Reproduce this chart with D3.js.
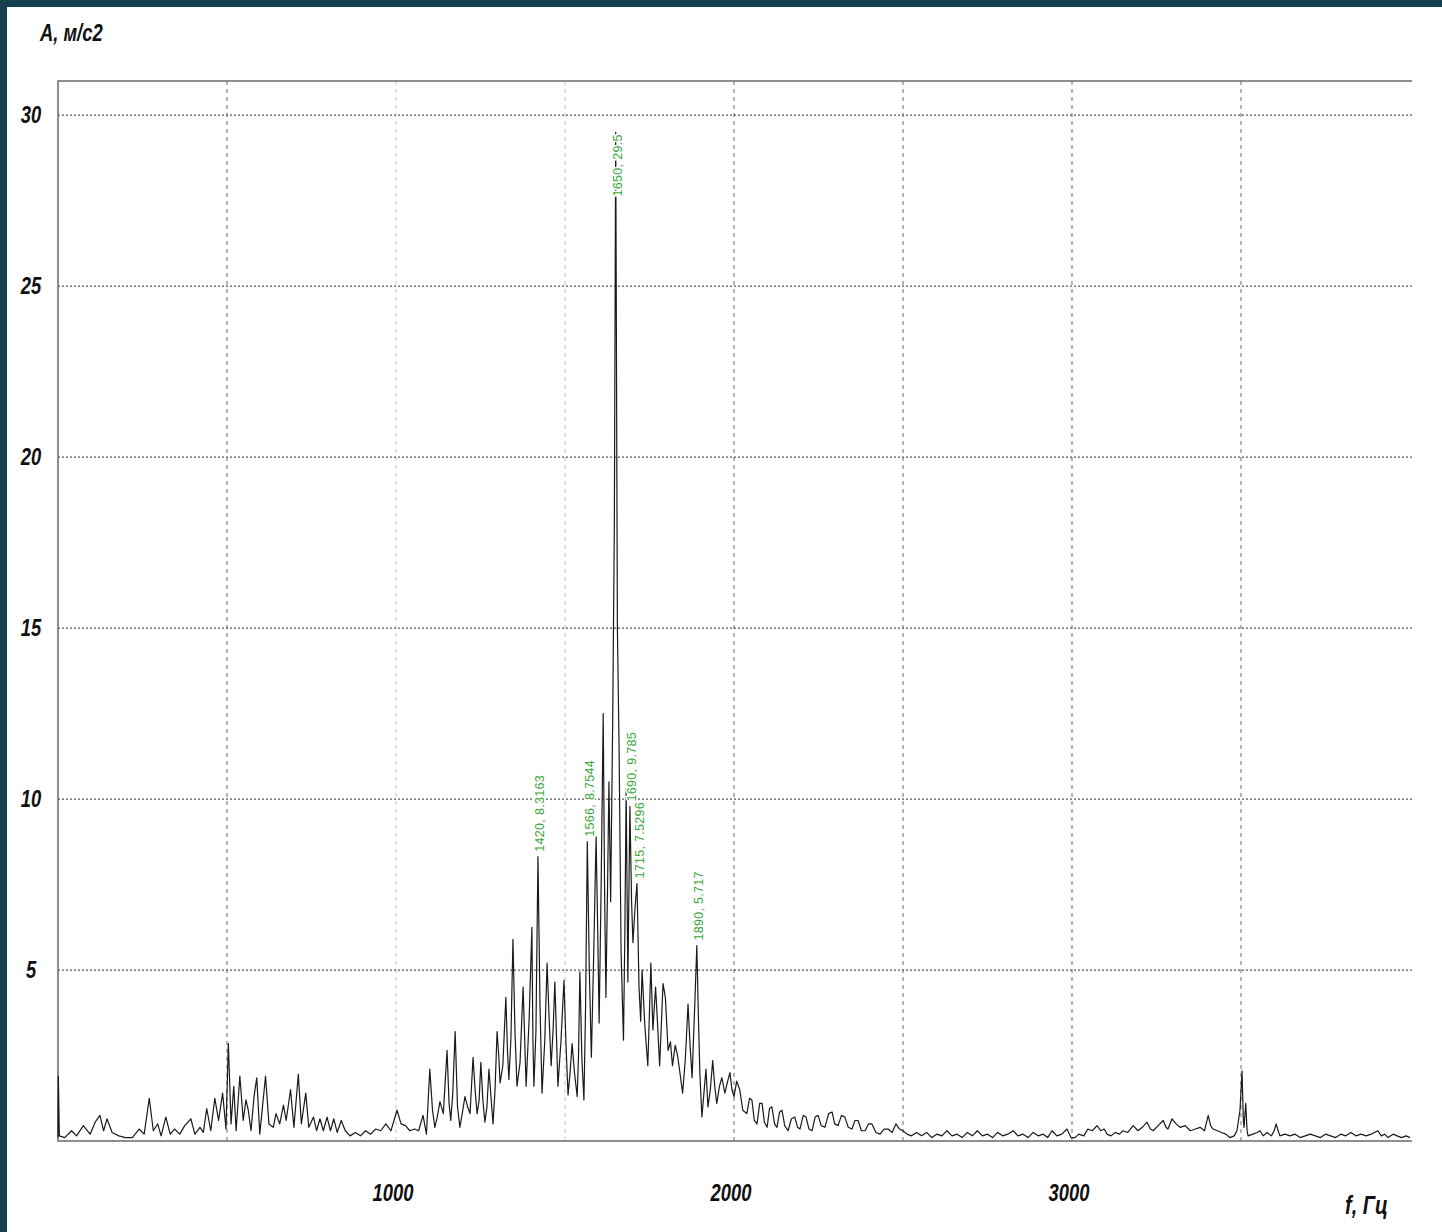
<!DOCTYPE html>
<html>
<head>
<meta charset="utf-8">
<script src="https://cdn.jsdelivr.net/npm/d3@7"></script>
<style>
  html, body { margin: 0; padding: 0; background: #143f4e; }
  svg { display: block; }
  .lbl { font-family: "Liberation Sans", Arial, sans-serif; font-style: italic; font-weight: bold; fill: #111; }
</style>
</head>
<body>
<div id="chart"></div>
<script>
// spectrum, [frequency Hz, amplitude m/s2]
const lowBand = [[0,0.1],[1,1.9],[4,0.15],[20,0.1],[40,0.3],[55,0.15],[75,0.45],[95,0.2],[110,0.55],[124,0.75],[135,0.3],[145,0.65],[160,0.25],[180,0.15],[200,0.1],[220,0.1],[240,0.35],[255,0.2],[270,1.25],[282,0.3],[295,0.5],[305,0.15],[319,0.7],[332,0.2],[345,0.35],[360,0.2],[375,0.45],[393,0.65],[405,0.2],[420,0.4],[430,0.25],[440,0.95],[452,0.3],[464,1.25],[475,0.6],[487,1.4],[497,0.35],[504,2.85],[512,0.5],[520,1.6],[527,0.3],[538,1.9],[548,0.6],[556,1.2],[563,0.9],[571,0.3],[580,1.3],[588,1.85],[597,0.2],[606,1.1],[614,1.9],[624,0.5],[637,0.4],[645,0.8],[656,0.5],[667,1.05],[675,0.6],[688,1.5],[698,0.4],[711,1.95],[720,0.5],[733,1.4],[742,0.4],[756,0.7],[765,0.3],[775,0.65],[785,0.3],[796,0.7],[806,0.3],[816,0.65],[826,0.25],[838,0.6],[850,0.3],[864,0.15],[880,0.25],[895,0.15],[910,0.3],[925,0.2],[940,0.35],[955,0.3],[970,0.5],[985,0.3],[1003,0.9],[1015,0.5],[1028,0.45],[1041,0.3],[1055,0.35],[1067,0.3],[1080,0.75],[1090,0.2]];

const coreBand = [[1100,2.1],[1108,0.9],[1115,0.4],[1122,0.7],[1130,1.15],[1140,0.8],[1151,2.65],[1157,1.1],[1162,0.6],[1168,1.4],[1175,3.2],[1182,1.0],[1189,0.4],[1196,0.8],[1204,1.3],[1212,1.0],[1219,0.8],[1228,2.45],[1234,1.5],[1240,0.8],[1246,1.2],[1251,2.3],[1257,1.2],[1263,0.55],[1269,1.0],[1275,2.1],[1281,1.3],[1287,0.5],[1293,1.5],[1299,3.2],[1304,2.5],[1308,1.7],[1316,2.2],[1325,4.2],[1330,2.6],[1334,1.8],[1340,3.0],[1346,5.9],[1352,3.2],[1358,1.6],[1367,2.3],[1376,4.5],[1381,2.9],[1385,1.6],[1394,3.6],[1402,6.25],[1405,3.0],[1408,1.6],[1414,3.2],[1420,8.3163],[1426,4.0],[1432,1.4],[1440,2.9],[1447,5.2],[1453,3.6],[1459,2.2],[1465,3.3],[1470,4.65],[1475,3.0],[1479,1.6],[1488,2.9],[1497,4.7],[1503,2.8],[1509,1.35],[1515,2.0],[1521,2.85],[1528,2.0],[1536,1.3],[1540,2.5],[1544,4.95],[1550,2.4],[1556,1.2],[1561,4.0],[1566,8.7544],[1572,5.0],[1578,2.45],[1585,5.5],[1592,8.9],[1597,6.0],[1601,3.45],[1607,7.5],[1613,12.5],[1617,7.5],[1621,4.2],[1626,7.5],[1630,10.5],[1635,7.0],[1641,12.2],[1646,18.0],[1650,29.5],[1655,15.0],[1660,11.5],[1666,5.5],[1673,2.95],[1677,6.0],[1681,10.3],[1686,4.65],[1692,9.785],[1697,7.0],[1701,5.8],[1707,6.8],[1713,7.5296],[1719,4.5],[1724,3.5],[1728,5.0],[1736,3.4],[1745,2.2],[1750,3.8],[1754,5.2],[1760,3.25],[1768,4.5],[1774,3.4],[1780,2.2],[1790,4.6],[1797,4.2],[1805,2.65],[1812,2.9],[1818,2.2],[1826,2.8],[1833,2.5],[1840,2.0],[1848,1.4],[1856,2.4],[1864,4.0],[1870,2.8],[1876,1.85],[1881,3.2],[1884,4.0],[1890,5.717],[1895,3.5],[1899,2.0],[1905,0.7],[1911,1.4],[1917,2.1],[1923,1.0],[1930,1.5],[1937,2.35],[1943,1.6],[1949,1.1],[1957,1.6],[1964,1.85],[1973,1.4],[1980,1.7],[1988,2.0],[1994,1.5]];

const highBand = [[2000,1.3],[2008,1.75],[2017,1.5],[2026,0.9],[2038,0.8],[2046,1.25],[2053,1.2],[2060,0.6],[2068,0.5],[2076,1.1],[2083,1.1],[2090,0.55],[2098,0.4],[2105,0.95],[2112,1.0],[2120,0.5],[2127,0.4],[2135,0.85],[2142,0.9],[2150,0.45],[2160,0.3],[2170,0.65],[2180,0.7],[2188,0.4],[2195,0.35],[2205,0.75],[2213,0.7],[2222,0.35],[2231,0.3],[2240,0.7],[2249,0.75],[2258,0.45],[2269,0.4],[2280,0.8],[2290,0.85],[2298,0.5],[2308,0.45],[2318,0.75],[2328,0.7],[2338,0.4],[2349,0.35],[2358,0.6],[2367,0.6],[2377,0.3],[2388,0.3],[2398,0.5],[2408,0.5],[2420,0.25],[2432,0.2],[2444,0.35],[2456,0.35],[2468,0.25],[2479,0.5],[2490,0.35],[2500,0.3],[2512,0.2],[2525,0.15],[2540,0.25],[2555,0.15],[2570,0.25],[2585,0.1],[2600,0.2],[2615,0.15],[2630,0.3],[2645,0.15],[2660,0.2],[2675,0.1],[2690,0.25],[2705,0.15],[2720,0.3],[2735,0.15],[2750,0.2],[2765,0.1],[2780,0.25],[2795,0.15],[2810,0.2],[2826,0.3],[2840,0.15],[2855,0.2],[2870,0.1],[2885,0.25],[2900,0.15],[2915,0.2],[2928,0.1],[2941,0.3],[2955,0.15],[2970,0.2],[2985,0.35],[2997,0.1],[3009,0.1],[3020,0.2],[3035,0.15],[3047,0.35],[3060,0.3],[3074,0.45],[3085,0.3],[3095,0.35],[3104,0.2],[3115,0.15],[3128,0.25],[3140,0.2],[3151,0.3],[3165,0.25],[3181,0.45],[3195,0.3],[3208,0.4],[3222,0.55],[3232,0.35],[3240,0.3],[3255,0.45],[3270,0.6],[3278,0.4],[3284,0.35],[3296,0.65],[3308,0.5],[3320,0.4],[3335,0.45],[3350,0.3],[3365,0.35],[3379,0.4],[3392,0.3],[3403,0.75],[3410,0.45],[3417,0.35],[3430,0.3],[3442,0.25],[3455,0.2],[3467,0.1],[3480,0.15],[3488,0.3],[3497,0.9],[3503,2.05],[3507,0.6],[3509,0.4],[3514,1.1],[3518,0.3],[3521,0.15],[3535,0.2],[3548,0.25],[3556,0.3],[3566,0.15],[3577,0.25],[3590,0.15],[3598,0.3],[3604,0.5],[3610,0.3],[3615,0.15],[3630,0.2],[3645,0.15],[3660,0.2],[3675,0.1],[3690,0.15],[3705,0.2],[3720,0.15],[3735,0.1],[3750,0.2],[3765,0.15],[3780,0.1],[3795,0.2],[3810,0.15],[3825,0.25],[3840,0.15],[3855,0.2],[3870,0.15],[3885,0.2],[3895,0.25],[3905,0.3],[3915,0.15],[3925,0.2],[3935,0.1],[3950,0.2],[3962,0.15],[3975,0.1],[3988,0.15],[4000,0.1]];

// marked peaks (green labels)
const peakFreqs = [1420, 1566, 1650, 1690, 1715, 1890];
const peakAmps = [8.3163, 8.7544, 29.5, 9.785, 7.5296, 5.717];
const peakTexts = ["1420, 8.3163", "1566, 8.7544", "1650, 29.5", "1690, 9.785", "1715, 7.5296", "1890, 5.717"];

const yTicks = [5, 10, 15, 20, 25, 30];
const xGrid = [500, 1000, 1500, 2000, 2500, 3000, 3500];
const xLabels = [1000, 2000, 3000];

const width = 1442, height = 1232;
const plot = { left: 58, right: 1410, top: 81, bottom: 1141 };
const squeeze = 0.8; // the picture uses a narrow face

const x = d3.scaleLinear().domain([0, 4000]).range([plot.left, plot.right]);
const y = d3.scaleLinear().domain([0, 31]).range([plot.bottom, plot.top]);

const svg = d3.select('#chart').append('svg')
    .attr('width', width)
    .attr('height', height);

// white sheet over the dark slide background
svg.append('rect')
    .attr('x', 7).attr('y', 7)
    .attr('width', width - 7).attr('height', height - 7)
    .attr('fill', '#ffffff');

// grid
svg.append('g').selectAll('line')
    .data(yTicks)
    .enter().append('line')
    .attr('x1', plot.left).attr('x2', plot.right + 2)
    .attr('y1', d => y(d)).attr('y2', d => y(d))
    .attr('stroke', '#55585f')
    .attr('stroke-width', 1.3)
    .attr('stroke-dasharray', '2,2');

svg.append('g').selectAll('line')
    .data(xGrid)
    .enter().append('line')
    .attr('x1', d => x(d)).attr('x2', d => x(d))
    .attr('y1', plot.top).attr('y2', plot.bottom)
    .attr('stroke', '#5a5f78')
    .attr('stroke-opacity', d => (d === 1000 || d === 1500) ? 0.35 : 0.85)
    .attr('stroke-width', 1.1)
    .attr('stroke-dasharray', '4,4');

// frame: top, left, bottom
svg.append('path')
    .attr('d', `M${plot.right + 2},${plot.top}H${plot.left}V${plot.bottom}H${plot.right + 2}`)
    .attr('fill', 'none')
    .attr('stroke', '#6a6a6a')
    .attr('stroke-width', 1.5);

// spectrum line
const spectrum = lowBand.concat(coreBand, highBand);
const line = d3.line()
    .x(d => x(d[0]))
    .y(d => y(d[1]));

svg.append('path')
    .datum(spectrum)
    .attr('d', line)
    .attr('fill', 'none')
    .attr('stroke', '#1a1a1a')
    .attr('stroke-width', 1.2)
    .attr('stroke-linejoin', 'round');

// peak labels, rotated, green
const peaks = peakFreqs.map((f, i) => ({ f: f, a: peakAmps[i], t: peakTexts[i] }));
svg.append('g').selectAll('text')
    .data(peaks)
    .enter().append('text')
    .attr('transform', function (d) {
        // the top peak has no room above it, so its label hangs down from the tip
        const py = d.a > 25 ? y(d.a) + 2 : y(d.a) - 5;
        return `translate(${x(d.f) + 2},${py}) rotate(-90)`;
    })
    .attr('text-anchor', d => d.a > 25 ? 'end' : 'start')
    .attr('dy', '0.35em')
    .style('font-family', 'Arial, "Liberation Sans", sans-serif')
    .style('font-size', '12.5px')
    .style('letter-spacing', '0.3px')
    .style('fill', '#3aa53a')
    .style('stroke', '#ffffff')
    .style('stroke-width', 3)
    .style('paint-order', 'stroke')
    .text(d => d.t);

// axis labels, squeezed horizontally
function label(sel, px, py, size, anchor, txt) {
    sel.append('text')
        .attr('class', 'lbl')
        .attr('transform', `translate(${px},${py}) scale(${squeeze},1)`)
        .attr('text-anchor', anchor)
        .style('font-size', size + 'px')
        .text(txt);
}

const yLab = svg.append('g');
yTicks.forEach(v => label(yLab, 31, y(v) + 8, 23, 'middle', v));

const xLab = svg.append('g');
xLabels.forEach(v => label(xLab, x(v) - 3, 1201, 23, 'middle', v));

label(svg, 40, 41, 23, 'start', 'A, м/с2');
label(svg, 1345, 1214, 25, 'start', 'f, Гц');
</script>
</body>
</html>
